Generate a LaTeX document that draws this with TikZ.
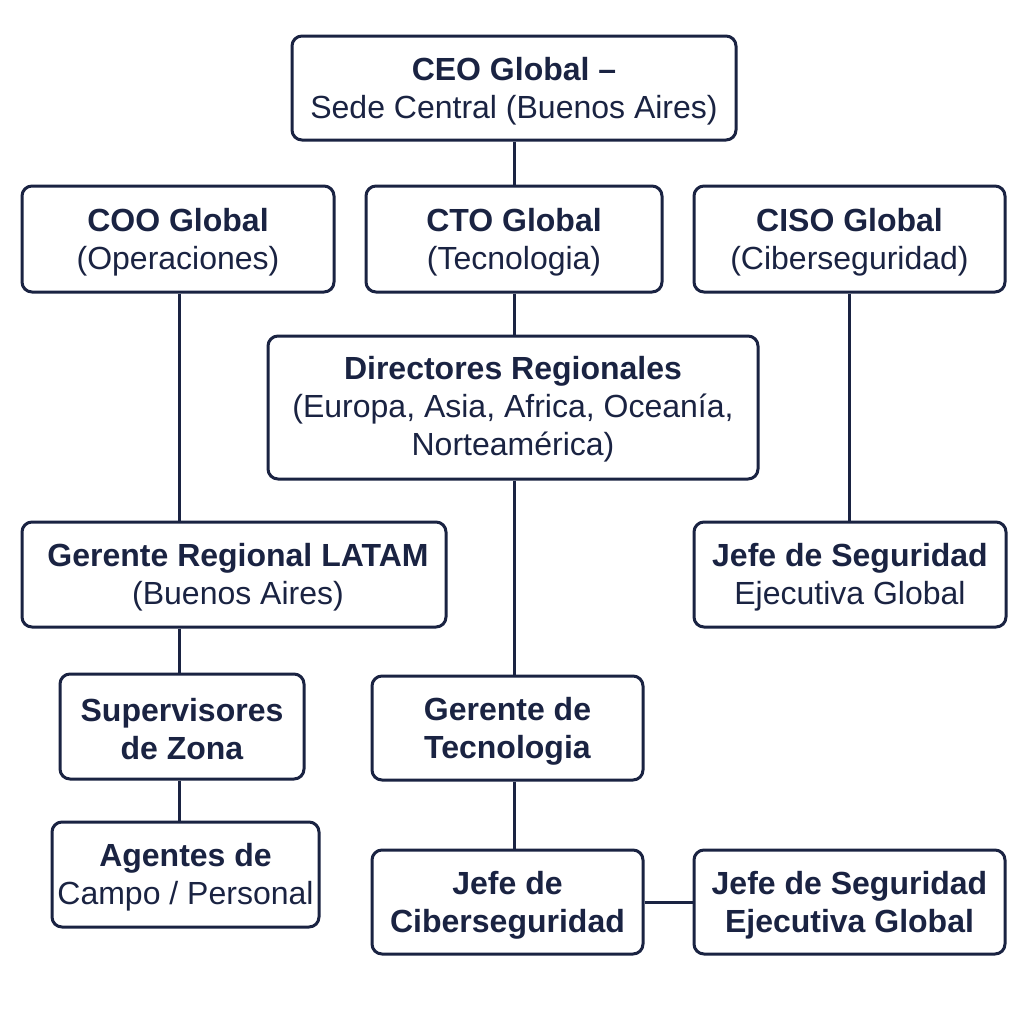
\documentclass[tikz,border=0pt]{standalone}
\usepackage{fontspec}
\setmainfont{Liberation Sans}
\definecolor{navy}{HTML}{1A2342}
\begin{document}
\begin{tikzpicture}[x=0.5pt,y=-0.5pt,
  box/.style={draw=navy, line width=1.5pt, rounded corners=5pt, fill=white, inner sep=0pt},
  txt/.style={inner sep=0pt, align=center, text=navy, font=\fontsize{16}{19}\selectfont},
  link/.style={draw=navy, line width=1.5pt}]
\useasboundingbox (0,0) rectangle (1024,1024);
\fill[white] (0,0) rectangle (1024,1024);
\node[box, minimum width=222pt, minimum height=52pt] (ceo) at (514,88) {};
\node[box, minimum width=156pt, minimum height=53pt] (coo) at (178,239) {};
\node[box, minimum width=148pt, minimum height=53pt] (cto) at (514,239) {};
\node[box, minimum width=155.5pt, minimum height=53pt] (ciso) at (849.5,239) {};
\node[box, minimum width=245pt, minimum height=71.5pt] (dir) at (513,407.5) {};
\node[box, minimum width=212pt, minimum height=52.5pt] (latam) at (234,574.5) {};
\node[box, minimum width=156pt, minimum height=52.5pt] (jsegA) at (850,574.5) {};
\node[box, minimum width=122pt, minimum height=52.5pt] (sup) at (182,726.5) {};
\node[box, minimum width=135.5pt, minimum height=52pt] (gtec) at (507.5,728) {};
\node[box, minimum width=133.5pt, minimum height=52.5pt] (agentes) at (185.5,874.5) {};
\node[box, minimum width=135.5pt, minimum height=52pt] (jcib) at (507.5,902) {};
\node[box, minimum width=155.5pt, minimum height=52pt] (jsegB) at (849.5,902) {};

\node[txt] (ceoT) at ([yshift=-1.5pt]ceo.center) {\textbf{CEO Global –}\\Sede Central (Buenos Aires)};
\node[txt] (cooT) at ([yshift=-1.5pt]coo.center) {\textbf{COO Global}\\(Operaciones)};
\node[txt] (ctoT) at ([yshift=-1.5pt]cto.center) {\textbf{CTO Global}\\(Tecnologia)};
\node[txt] (cisoT) at ([yshift=-1.5pt]ciso.center) {\textbf{CISO Global}\\(Ciberseguridad)};
\node[txt] (dirT) at ([yshift=-1pt]dir.center) {\textbf{Directores Regionales}\\(Europa, Asia, Africa, Oceanía,\\Norteamérica)};
\node[txt] (latamT) at ([xshift=2pt,yshift=-1.5pt]latam.center) {\textbf{Gerente Regional LATAM}\\(Buenos Aires)};
\node[txt] (jsegAT) at ([yshift=-1.5pt]jsegA.center) {\textbf{Jefe de Seguridad}\\Ejecutiva Global};
\node[txt] (supT) at ([yshift=-1.5pt]sup.center) {\textbf{Supervisores}\\\textbf{de Zona}};
\node[txt] (gtecT) at ([yshift=-1.5pt]gtec.center) {\textbf{Gerente de}\\\textbf{Tecnologia}};
\node[txt] (agentesT) at ([yshift=-1.5pt]agentes.center) {\textbf{Agentes de}\\Campo / Personal};
\node[txt] (jcibT) at ([yshift=-1.5pt]jcib.center) {\textbf{Jefe de}\\\textbf{Ciberseguridad}};
\node[txt] (jsegBT) at ([yshift=-1.5pt]jsegB.center) {\textbf{Jefe de Seguridad}\\\textbf{Ejecutiva Global}};

\coordinate (lx) at (179,0);
\coordinate (mx) at (514,0);
\draw[link] (ceo.south) -- (cto.north);
\draw[link] (coo.south -| lx) -- (latam.north -| lx);
\draw[link] (cto.south -| mx) -- (dir.north -| mx);
\draw[link] (ciso.south) -- (ciso.south |- jsegA.north);
\draw[link] (dir.south -| mx) -- (gtec.north -| mx);
\draw[link] (latam.south -| lx) -- (sup.north -| lx);
\draw[link] (sup.south -| lx) -- (agentes.north -| lx);
\draw[link] (gtec.south -| mx) -- (jcib.north -| mx);
\draw[link] (jcib.east) -- (jsegB.west);
\end{tikzpicture}
\end{document}
